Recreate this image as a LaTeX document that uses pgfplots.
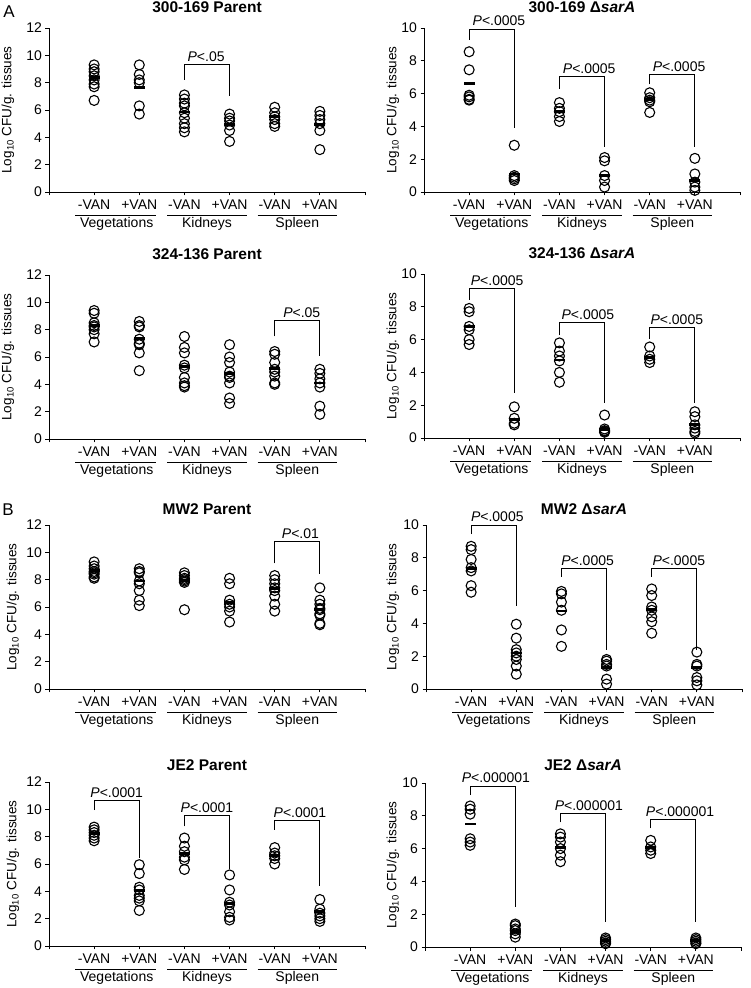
\documentclass[border=0pt]{standalone}
\usepackage{fontspec}
\setmainfont{Liberation Sans}
\usepackage{pgfplots}
\pgfplotsset{compat=1.18}
\newcommand{\fs}{\fontsize{14}{16}\selectfont}
\pgfplotsset{
  panel/.style={scale only axis, width=316pt, height=164pt, xmin=0, xmax=7, ymin=0,
    axis lines*=left, xtick={0,...,7}, xticklabels={,-VAN,+VAN,-VAN,+VAN,-VAN,+VAN,},
    tick align=outside, major tick length=3.5pt,
    /pgf/number format/assume math mode=true,
    tick label style={font=\fs}, xticklabel style={yshift=-1pt},
    axis line style={line width=0.9pt}, every tick/.style={black, line width=0.9pt},
    clip=false},
  circ/.style={only marks, mark=o, mark size=5pt, black, mark options={line width=1.1pt}},
  meanbar/.style={only marks, mark=-, mark size=5.5pt, black, mark options={line width=2.8pt}},
  br/.style={black, line width=0.9pt, mark=none}
}
\newcommand{\decor}[3]{%
  \draw[line width=0.9pt] ([yshift=-23pt]axis cs:0.58,0) -- ([yshift=-23pt]axis cs:2.38,0);
  \draw[line width=0.9pt] ([yshift=-23pt]axis cs:2.62,0) -- ([yshift=-23pt]axis cs:4.38,0);
  \draw[line width=0.9pt] ([yshift=-23pt]axis cs:4.62,0) -- ([yshift=-23pt]axis cs:6.38,0);
  \node[font=\fs] at ([yshift=-32pt]axis cs:1.5,0) {Vegetations};
  \node[font=\fs] at ([yshift=-32pt]axis cs:3.5,0) {Kidneys};
  \node[font=\fs] at ([yshift=-32pt]axis cs:5.5,0) {Spleen};
  \node[rotate=90,font=\fontsize{13.5}{15}\selectfont] at ([xshift=-#1pt]rel axis cs:0,0.5) {Log\textsubscript{10} CFU/g. tissues};
  \node[font=\bfseries\fontsize{15.5}{18}\selectfont] at ([yshift=#2pt]rel axis cs:0.5,1) {#3};
}
\newcommand{\pval}[3]{\node[font=\fs, anchor=base, inner sep=0pt] at ([yshift=3pt]axis cs:#1,#2) {\textit{P}<.#3};}
\begin{document}
\begin{tikzpicture}
\useasboundingbox (0,0) rectangle (750pt,988pt);
\node[font=\fontsize{17}{20}\selectfont] at (9pt,976pt) {A};
\node[font=\fontsize{17}{20}\selectfont] at (8pt,478pt) {B};

% Panel 1: 300-169 Parent
\begin{axis}[panel, at={(49pt,796pt)}, anchor=south west, ymax=12, ytick={0,2,...,12}]
\addplot[circ] coordinates {(1,9.3)(1,9.0)(1,8.8)(1,8.5)(1,8.2)(1,7.9)(1,7.7)(1,6.7)
 (2,9.3)(2,8.6)(2,8.2)(2,8.0)(2,6.3)(2,5.7)
 (3,7.1)(3,6.8)(3,6.5)(3,6.3)(3,5.8)(3,5.4)(3,5.0)(3,4.7)(3,4.4)
 (4,5.7)(4,5.4)(4,5.2)(4,4.9)(4,4.5)(4,3.7)
 (5,6.2)(5,5.8)(5,5.5)(5,5.3)(5,5.0)(5,4.8)
 (6,5.9)(6,5.6)(6,5.3)(6,5.0)(6,4.5)(6,3.1)};
\addplot[meanbar] coordinates {(1,8.35)(2,7.65)(3,5.85)(4,4.95)(5,5.5)(6,4.95)};
\addplot[br] coordinates {(3,8.2)(3,9.3)(4,9.3)(4,7.0)};
\pval{3.48}{9.3}{05}
\decor{41}{21}{300-169 Parent}
\end{axis}

% Panel 2: 300-169 sarA
\begin{axis}[panel, at={(424pt,796pt)}, anchor=south west, ymax=10, ytick={0,2,...,10}]
\addplot[circ] coordinates {(1,8.55)(1,7.45)(1,5.9)(1,5.8)(1,5.65)(1,5.6)
 (2,2.85)(2,1.0)(2,0.9)(2,0.8)(2,0.7)
 (3,5.45)(3,5.1)(3,4.9)(3,4.6)(3,4.3)
 (4,2.1)(4,1.9)(4,1.0)(4,0.7)(4,0.3)
 (5,6.05)(5,5.75)(5,5.6)(5,5.5)(5,4.85)
 (6,2.05)(6,1.1)(6,0.6)(6,0.3)(6,0.1)};
\addplot[meanbar] coordinates {(1,6.6)(2,1.1)(3,4.9)(4,1.0)(5,5.65)(6,0.7)};
\addplot[br] coordinates {(1,9.28)(1,9.94)(2,9.94)(2,3.9)};
\addplot[br] coordinates {(3,6.29)(3,7.07)(4,7.07)(4,2.77)};
\addplot[br] coordinates {(5,6.56)(5,7.17)(6,7.17)(6,2.77)};
\pval{1.66}{9.94}{0005}
\pval{3.66}{7.07}{0005}
\pval{5.65}{7.17}{0005}
\decor{31}{21}{300-169 Δ\textit{sarA}}
\end{axis}

% Panel 3: 324-136 Parent
\begin{axis}[panel, at={(49pt,549pt)}, anchor=south west, ymax=12, ytick={0,2,...,12}]
\addplot[circ] coordinates {(1,9.4)(1,9.2)(1,8.5)(1,8.3)(1,8.2)(1,8.0)(1,7.7)(1,7.1)
 (2,8.6)(2,8.3)(2,8.2)(2,7.3)(2,7.0)(2,6.9)(2,6.3)(2,5.0)
 (3,7.5)(3,6.7)(3,6.3)(3,5.4)(3,5.2)(3,4.5)(3,4.1)(3,3.9)(3,3.8)
 (4,6.9)(4,6.0)(4,5.6)(4,4.9)(4,4.6)(4,4.5)(4,4.1)(4,3.0)(4,2.6)
 (5,6.4)(5,6.2)(5,5.6)(5,5.1)(5,4.9)(5,4.6)(5,4.1)(5,4.0)
 (6,5.1)(6,4.8)(6,4.4)(6,4.1)(6,3.8)(6,2.4)(6,1.8)};
\addplot[meanbar] coordinates {(1,8.3)(2,7.35)(3,5.3)(4,4.8)(5,5.15)(6,4.1)};
\addplot[br] coordinates {(5,7.5)(5,8.64)(6,8.64)(6,6.06)};
\pval{5.6}{8.64}{05}
\decor{41}{21}{324-136 Parent}
\end{axis}

% Panel 4: 324-136 sarA
\begin{axis}[panel, at={(424pt,550pt)}, anchor=south west, ymax=10, ytick={0,2,...,10}]
\addplot[circ] coordinates {(1,7.9)(1,7.7)(1,6.8)(1,6.6)(1,6.0)(1,5.7)
 (2,1.9)(2,1.2)(2,0.9)(2,0.8)
 (3,5.8)(3,5.3)(3,5.0)(3,4.7)(3,4.0)(3,3.4)
 (4,1.4)(4,0.55)(4,0.45)(4,0.4)(4,0.35)
 (5,5.55)(5,5.0)(5,4.8)(5,4.6)
 (6,1.6)(6,1.3)(6,0.8)(6,0.6)(6,0.4)(6,0.3)};
\addplot[meanbar] coordinates {(1,6.8)(2,1.15)(3,4.75)(4,0.5)(5,4.9)(6,0.82)};
\addplot[br] coordinates {(1,8.42)(1,9.14)(2,9.14)(2,2.77)};
\addplot[br] coordinates {(3,6.26)(3,7.02)(4,7.02)(4,2.16)};
\addplot[br] coordinates {(5,6.06)(5,6.71)(6,6.71)(6,2.16)};
\pval{1.62}{9.14}{0005}
\pval{3.63}{7.02}{0005}
\pval{5.6}{6.71}{0005}
\decor{31}{21}{324-136 Δ\textit{sarA}}
\end{axis}

% Panel 5: MW2 Parent
\begin{axis}[panel, at={(49pt,299pt)}, anchor=south west, ymax=12, ytick={0,2,...,12}]
\addplot[circ] coordinates {(1,9.3)(1,9.0)(1,8.8)(1,8.6)(1,8.5)(1,8.4)(1,8.2)(1,8.1)
 (2,8.8)(2,8.6)(2,8.5)(2,7.9)(2,7.7)(2,7.2)(2,6.5)(2,6.1)
 (3,8.5)(3,8.3)(3,8.1)(3,8.0)(3,7.9)(3,7.8)(3,5.8)
 (4,8.1)(4,7.7)(4,6.5)(4,6.2)(4,6.0)(4,5.7)(4,4.9)
 (5,8.3)(5,8.0)(5,7.7)(5,7.4)(5,7.2)(5,6.8)(5,6.2)(5,5.7)
 (6,7.4)(6,6.5)(6,6.2)(6,5.9)(6,5.8)(6,5.5)(6,5.4)(6,4.8)(6,4.7)};
\addplot[meanbar] coordinates {(1,8.65)(2,7.9)(3,7.95)(4,6.3)(5,7.35)(6,5.8)};
\addplot[br] coordinates {(5,9.19)(5,10.76)(6,10.76)(6,8.4)};
\pval{5.57}{10.76}{01}
\decor{36}{16}{MW2 Parent}
\end{axis}

% Panel 6: MW2 sarA
\begin{axis}[panel, at={(426pt,299pt)}, anchor=south west, ymax=10, ytick={0,2,...,10}]
\addplot[circ] coordinates {(1,8.7)(1,8.5)(1,7.9)(1,7.4)(1,7.2)(1,6.3)(1,5.9)
 (2,3.95)(2,3.1)(2,2.4)(2,2.2)(2,2.0)(2,1.8)(2,1.4)(2,0.9)
 (3,5.95)(3,5.8)(3,5.3)(3,4.8)(3,3.6)(3,2.6)
 (4,1.8)(4,1.7)(4,1.5)(4,1.4)(4,0.6)(4,0.3)
 (5,6.1)(5,5.7)(5,5.0)(5,4.8)(5,4.4)(5,4.1)(5,3.4)
 (6,2.25)(6,1.5)(6,1.4)(6,0.7)(6,0.5)(6,0.25)};
\addplot[meanbar] coordinates {(1,7.35)(2,2.2)(3,4.75)(4,1.3)(5,4.85)(6,1.3)};
\addplot[br] coordinates {(1,9.44)(1,10.0)(2,10.0)(2,5.06)};
\addplot[br] coordinates {(3,6.83)(3,7.35)(4,7.35)(4,2.35)};
\addplot[br] coordinates {(5,6.83)(5,7.35)(6,7.35)(6,2.35)};
\pval{1.58}{10.0}{0005}
\pval{3.58}{7.35}{0005}
\pval{5.6}{7.35}{0005}
\decor{33}{16}{MW2 Δ\textit{sarA}}
\end{axis}

% Panel 7: JE2 Parent
\begin{axis}[panel, at={(49pt,42pt)}, anchor=south west, ymax=12, ytick={0,2,...,12}]
\addplot[circ] coordinates {(1,8.7)(1,8.5)(1,8.3)(1,8.1)(1,7.9)(1,7.7)
 (2,5.95)(2,5.3)(2,4.3)(2,4.1)(2,3.7)(2,3.5)(2,3.3)(2,2.6)
 (3,7.9)(3,7.3)(3,6.9)(3,6.5)(3,6.3)(3,5.6)
 (4,5.2)(4,4.1)(4,3.2)(4,3.0)(4,2.5)(4,2.1)(4,1.9)
 (5,7.2)(5,6.8)(5,6.6)(5,6.4)(5,6.0)
 (6,3.4)(6,2.7)(6,2.4)(6,2.2)(6,2.0)(6,1.8)};
\addplot[meanbar] coordinates {(1,8.25)(2,4.05)(3,6.75)(4,3.1)(5,6.6)(6,2.55)};
\addplot[br] coordinates {(1,9.95)(1,10.67)(2,10.67)(2,6.46)};
\addplot[br] coordinates {(3,8.75)(3,9.52)(4,9.52)(4,5.61)};
\addplot[br] coordinates {(5,8.5)(5,9.16)(6,9.16)(6,4.4)};
\pval{1.5}{10.67}{0001}
\pval{3.5}{9.52}{0001}
\pval{5.56}{9.16}{0001}
\decor{36}{17}{JE2 Parent}
\end{axis}

% Panel 8: JE2 sarA
\begin{axis}[panel, at={(425pt,41pt)}, anchor=south west, ymax=10, ytick={0,2,...,10}]
\addplot[circ] coordinates {(1,8.6)(1,8.4)(1,8.1)(1,6.6)(1,6.4)(1,6.2)
 (2,1.4)(2,1.3)(2,1.1)(2,1.0)(2,0.8)(2,0.6)
 (3,6.9)(3,6.7)(3,6.4)(3,6.0)(3,5.6)(3,5.2)
 (4,0.55)(4,0.45)(4,0.35)(4,0.25)(4,0.2)
 (5,6.5)(5,6.1)(5,5.9)(5,5.7)
 (6,0.55)(6,0.45)(6,0.35)(6,0.25)(6,0.2)};
\addplot[meanbar] coordinates {(1,7.5)(2,0.95)(3,6.05)(4,0.38)(5,6.05)(6,0.38)};
\addplot[br] coordinates {(1,9.26)(1,9.82)(2,9.82)(2,2.41)};
\addplot[br] coordinates {(3,7.6)(3,8.15)(4,8.15)(4,1.5)};
\addplot[br] coordinates {(5,7.24)(5,7.75)(6,7.75)(6,1.5)};
\pval{1.57}{9.82}{000001}
\pval{3.63}{8.15}{000001}
\pval{5.65}{7.75}{000001}
\decor{32}{18}{JE2 Δ\textit{sarA}}
\end{axis}
\end{tikzpicture}
\end{document}
